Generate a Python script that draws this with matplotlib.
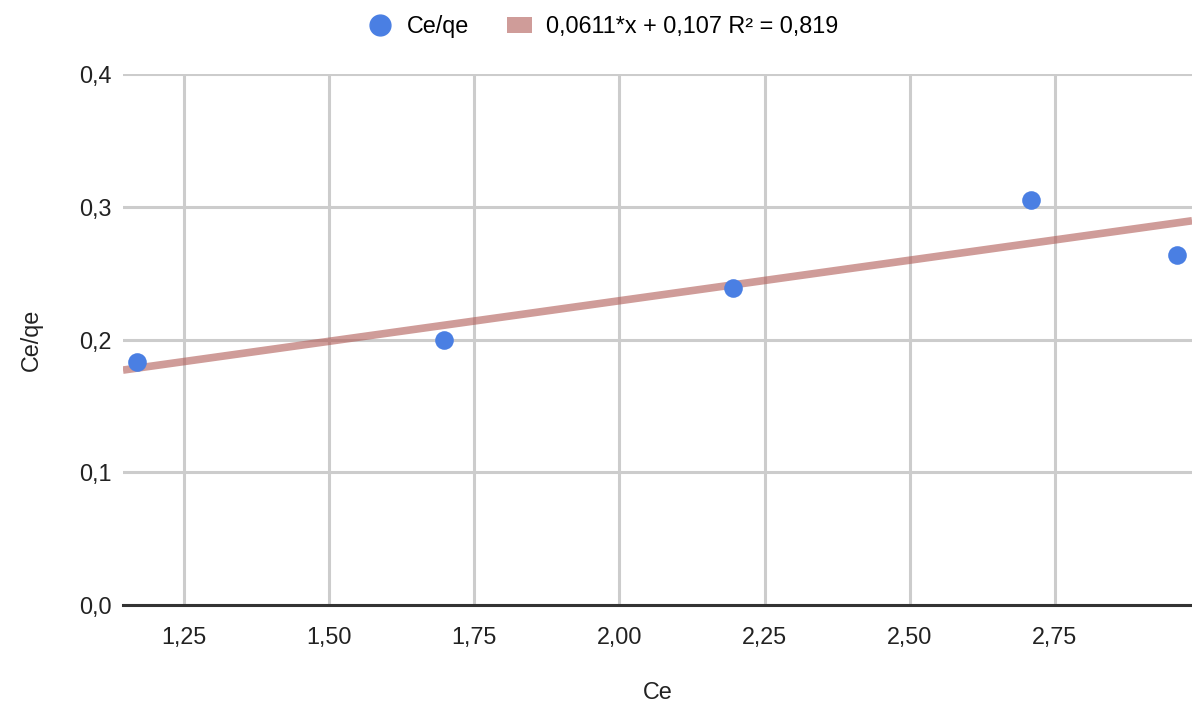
import numpy as np
import matplotlib
matplotlib.use('Agg')
import matplotlib.pyplot as plt
from matplotlib.lines import Line2D
from matplotlib.patches import Patch

plt.rcParams['font.family'] = ['Liberation Sans', 'DejaVu Sans']

# data
ce = [1.169, 1.697, 2.195, 2.709, 2.961]
ce_qe = [0.183, 0.200, 0.239, 0.305, 0.264]
slope = 0.0611
intercept = 0.107
x_ticks = [1.25, 1.50, 1.75, 2.00, 2.25, 2.50, 2.75]
y_ticks = [0.0, 0.1, 0.2, 0.3, 0.4]

fs = 16.8
fig = plt.figure(figsize=(11.92, 7.08), dpi=100)
ax = fig.add_axes([123 / 1192, 1 - 605 / 708, 1 - 123 / 1192, (605 - 74) / 708])

xmin, xmax = 1.145, 2.986
xs = np.array([xmin, xmax])
ax.plot(xs, slope * xs + intercept, color='#b05a55', alpha=0.6, lw=5.5,
        solid_capstyle='butt', zorder=3)
ax.scatter(ce, ce_qe, s=180, color='#4a7fe3', zorder=4, linewidths=0)

ax.set_xlim(xmin, xmax)
ax.set_ylim(0, 0.4)
ax.set_xticks(x_ticks)
ax.set_yticks(y_ticks)
ax.set_xticklabels([f'{v:.2f}'.replace('.', ',') for v in x_ticks])
ax.set_yticklabels([f'{v:.1f}'.replace('.', ',') for v in y_ticks])
ax.grid(True, color='#cccccc', lw=2.2, zorder=0)
ax.set_axisbelow(True)
for s in ['top', 'right', 'left']:
    ax.spines[s].set_visible(False)
ax.spines['bottom'].set_color('#333333')
ax.spines['bottom'].set_linewidth(2.2)
ax.spines['bottom'].set_zorder(2)
ax.tick_params(length=0, labelsize=fs, colors='#222222', pad=8)
ax.tick_params(axis='x', pad=15)
ax.set_xlabel('Ce', fontsize=fs, color='#222222', labelpad=23)
ax.set_ylabel('Ce/qe', fontsize=fs, color='#222222', labelpad=26)

handles = [Line2D([], [], marker='o', ls='', color='#4a7fe3', markersize=15),
           Patch(facecolor='#b05a55', alpha=0.6)]
fig.legend(handles, ['Ce/qe', '0,0611*x + 0,107 R² = 0,819'], loc='upper center',
           bbox_to_anchor=(0.506, 1.008), ncol=2, frameon=False, fontsize=fs,
           handlelength=1.1, handletextpad=0.6, columnspacing=1.6)

fig.savefig('out.png', dpi=100)
